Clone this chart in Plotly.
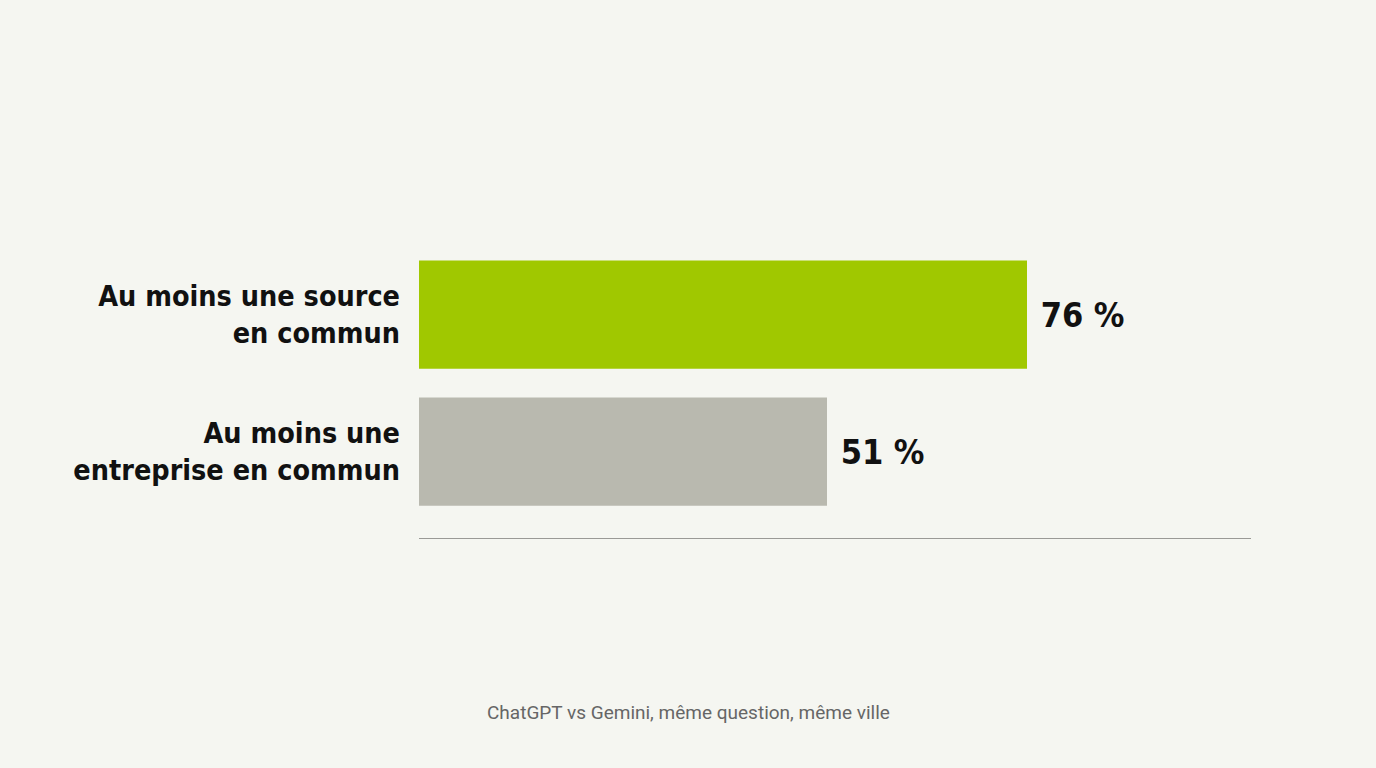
import plotly.graph_objects as go

categories = ["Au moins une source<br>en commun", "Au moins une<br>entreprise en commun"]
values = [76, 51]
value_labels = [" 76 %", " 51 %"]
bar_colors = ["#a0c800", "#b9b9af"]
footer = "ChatGPT vs Gemini, même question, même ville"

label_font = "DejaVu Sans Condensed, Liberation Sans Narrow, Roboto, sans-serif"

fig = go.Figure()
fig.add_trace(go.Bar(
    y=categories,
    x=values,
    orientation="h",
    marker=dict(color=bar_colors, line=dict(width=0)),
    text=value_labels,
    textposition="outside",
    textfont=dict(family=label_font, size=34, color="#111111", weight="bold"),
    cliponaxis=False,
    width=0.79,
))

fig.update_layout(
    width=1376,
    height=768,
    paper_bgcolor="#f5f6f1",
    plot_bgcolor="#f5f6f1",
    margin=dict(l=419, r=125, t=246, b=230),
    showlegend=False,
    xaxis=dict(range=[0, 104], showgrid=False, zeroline=False, showticklabels=False,
               showline=True, linecolor="#9a9a96", linewidth=1, ticks=""),
    yaxis=dict(categoryorder="array", categoryarray=categories, range=[1.63, -0.5],
               showgrid=False, zeroline=False, ticks="", ticklabelstandoff=18,
               tickfont=dict(family=label_font, size=28.5, color="#111111", weight="bold")),
    annotations=[dict(
        text=footer,
        x=(688 - 419) / (1251 - 419), y=-(712 - 538) / (538 - 246),
        xref="paper", yref="paper", xanchor="center", yanchor="middle",
        showarrow=False,
        font=dict(family="Roboto, sans-serif", size=19, color="#666666"),
    )],
)

fig.write_html(
    "out.html",
    config={"displayModeBar": False},
    post_script="document.body.style.margin='0';document.body.style.overflow='hidden';"
                "document.body.style.background='#f5f6f1';",
)
